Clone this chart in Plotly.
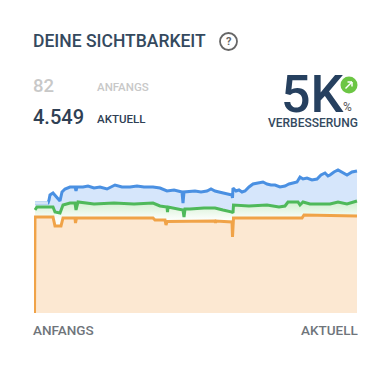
import plotly.graph_objects as go

W, H = 390, 373
FONT = "Roboto"

blue_x = [1,14,15,16,19,21,23,26,28,31,36,41,42,43,49,54,60,66,73,81,88,96,103,110,119,126,133,140,148,149,150,161,167,173,177,181,185,189,194,198,198.5,199,202,205,208,211,215,219,224,229,233,237,241,246,251,255,259,263,266,269,273,278,283,287,291,294,296,300,304,308,313,318,323]
blue_y = [110,110,113,118,120,118,115,112,121,124,126,126,122,126,126,127,125,126,124,128,126,126,127,126,126,125,122,123,121,110,121,122,121,122,124,122,121,120,119,118,115,125,122,123,121,122,126,129,130,131,129,128,128,126,127,129,130,131,136,134,135,133,134,138,140,137,138,141,143,141,138,141,142]

green_x = [1,3,19,21,26,29,36,41,42,44,60,80,100,119,126,133,133.5,134,149,150,151,156,170,181,189,198,199,199.5,215,233,245,251,254,264,266,269,276,296,304,313,323]
green_y = [103,106,106,101,100,108,110,110,103,111,109,110,109,110,107,106,101,106,103,96,104,104,105,105,103,101,100,108,107,108,106,107,111,111,108,111,109,109,111,109,112]

orange_x = [0.5,1,19,21,27,29,41,41.5,42.5,119,121,131,132,133,181,181.5,182,198,198.5,199.5,268,270,323]
orange_y = [0,96,96,87,87,95,95,90,95,95,93,93,88,91.5,92,90,92,91,76,95,95,98,97]

fig = go.Figure()


def area(xs, ys, line, fill=None, grad=None):
    fig.add_trace(go.Scatter(
        x=xs, y=ys, mode="lines", line=dict(color=line, width=3),
        fill="tozeroy", fillcolor=fill, fillgradient=grad, hoverinfo="skip",
    ))


area(blue_x, blue_y, "#4a90e2", fill="#d6e6fb")
fig.add_trace(go.Scatter(x=blue_x[:2], y=blue_y[:2], mode="lines",
                         line=dict(color="#d4e4f8", width=3.2), hoverinfo="skip"))
area(green_x, green_y, "#4fb95a", grad=dict(
    type="vertical", start=112, stop=94,
    colorscale=[[0, "#cfeecd"], [1, "#fbfefb"]]))
area(orange_x, orange_y, "#f0a348", fill="#fce8d2")

fig.update_layout(
    width=W, height=H, margin=dict(l=0, r=0, t=0, b=0),
    paper_bgcolor="white", plot_bgcolor="white", showlegend=False,
    font=dict(family=FONT),
    xaxis=dict(domain=[34 / W, 358 / W], range=[0, 324], visible=False),
    yaxis=dict(domain=[(H - 313) / H, (H - 150) / H], range=[0, 163], visible=False),
)


def px(x):
    return x / W


def py(y):
    return 1 - y / H


def text(x, y, s, size, color, anchor="left", weight=400, height=None):
    fig.add_annotation(x=px(x), y=py(y), xref="paper", yref="paper", text=s, showarrow=False,
                       xanchor=anchor, yanchor="middle", borderpad=0, borderwidth=0, height=height,
                       font=dict(family=FONT, size=size, color=color, weight=weight))


text(33, 41, "DEINE SICHTBARKEIT", 17.5, "#34495e", weight=500)
text(228.5, 41.5, "?", 11, "#666666", anchor="center", weight=700)
text(33, 86, "82", 18.5, "#c8c8c8", weight=500)
text(97, 87, "ANFANGS", 11.5, "#c8c8c8", weight=500)
text(33, 117, "4.549", 20, "#2f4054", weight=500)
text(97, 119, "AKTUELL", 11.5, "#2f4054", weight=500)
text(312.5, 94, "5K", 52, "#26405f", anchor="center", weight=500, height=46)
text(347, 107, "%", 12, "#555555", anchor="center")
text(313, 123, "VERBESSERUNG", 12, "#34495e", anchor="center", weight=500)
text(33, 330, "ANFANGS", 13.5, "#6f757b", weight=500)
text(358, 330, "AKTUELL", 13.5, "#6f757b", anchor="right", weight=500)


def circle(cx, cy, r, line=None, fill=None, width=1.8):
    fig.add_shape(type="circle", xref="paper", yref="paper",
                  x0=px(cx - r), x1=px(cx + r), y0=py(cy + r), y1=py(cy - r),
                  line=dict(color=line, width=width if line else 0), fillcolor=fill)


circle(228.5, 41.5, 8.5, line="#666666")
circle(349, 85, 8.5, fill="#6cc644")
for a, b, c, d in [(345.5, 88.5, 352, 82), (347.5, 82, 352, 82), (352, 82, 352, 86.5)]:
    fig.add_shape(type="line", xref="paper", yref="paper", x0=px(a), y0=py(b), x1=px(c), y1=py(d),
                  line=dict(color="white", width=1.5))

fig.write_html("out.html", config=dict(displayModeBar=False),
               post_script="document.body.style.margin='0';document.documentElement.style.overflow='hidden';")
